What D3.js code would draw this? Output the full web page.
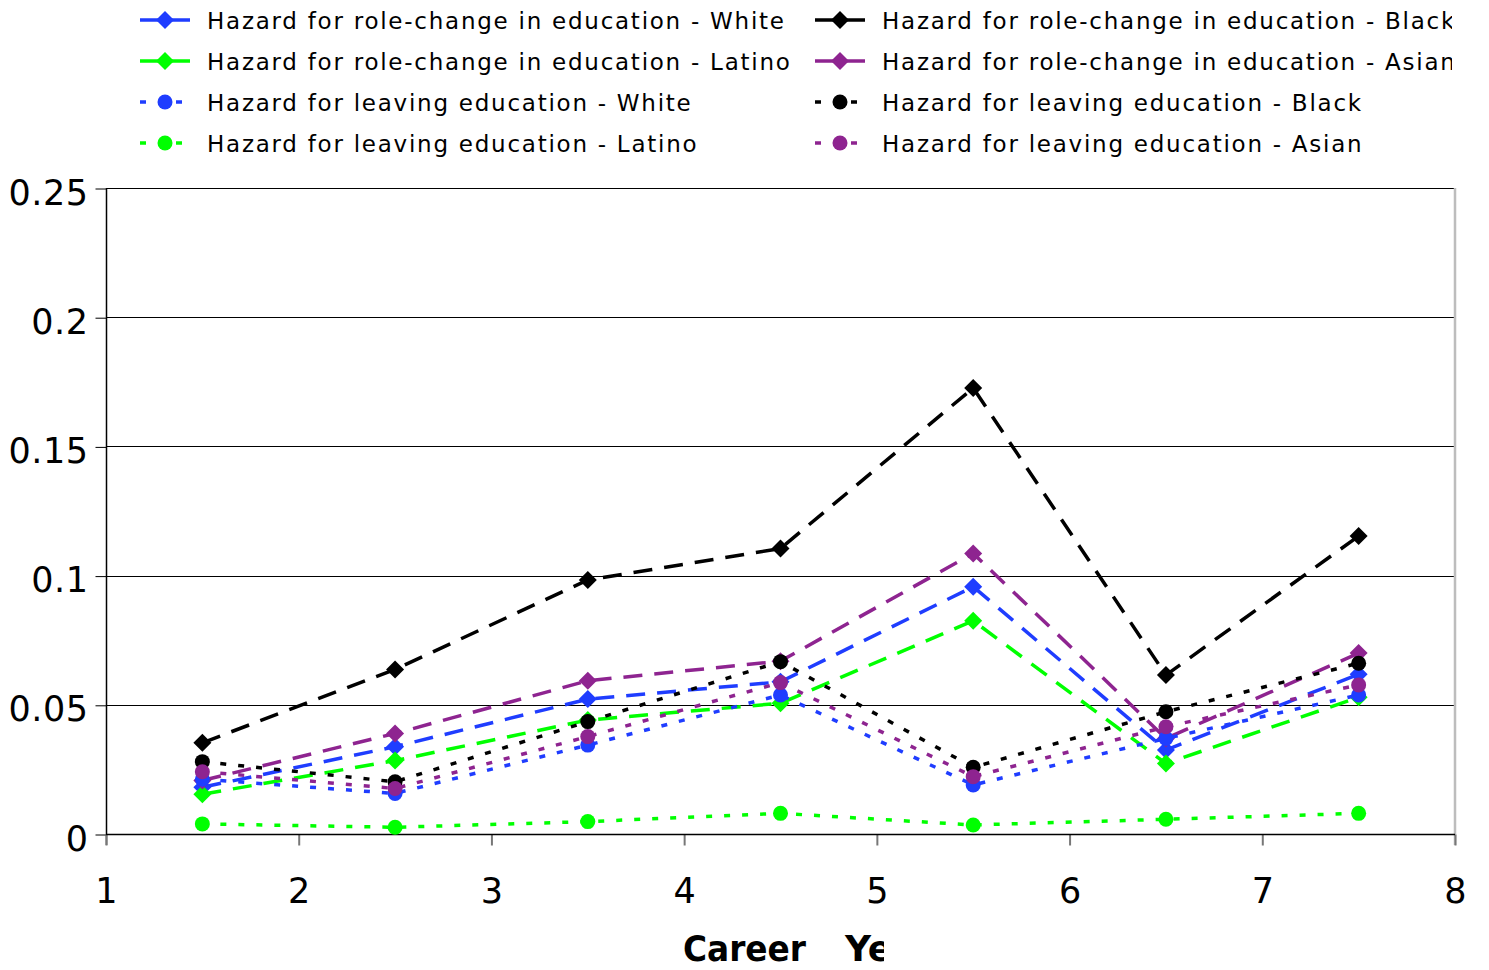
<!DOCTYPE html>
<html>
<head>
<meta charset="utf-8">
<script src="https://cdn.jsdelivr.net/npm/d3@7"></script>
<style>
  html, body { margin: 0; padding: 0; background: #fff; }
  svg { display: block; }
  text { font-family: "DejaVu Sans", Verdana, sans-serif; fill: #000; }
</style>
</head>
<body>
<svg id="chart" width="1489" height="970"></svg>
<script>
// Career-year positions of each hazard estimate
const xValues = [1.5, 2.5, 3.5, 4.5, 5.5, 6.5, 7.5];

// Hazard for role-change in education, by group
const roleWhite  = [0.0181, 0.0338, 0.0522, 0.0589, 0.0957, 0.0325, 0.0618];
const roleBlack  = [0.0353, 0.0637, 0.0983, 0.1105, 0.1726, 0.0615, 0.1153];
const roleLatino = [0.0154, 0.0284, 0.0441, 0.0506, 0.0825, 0.0273, 0.0529];
const roleAsian  = [0.0207, 0.0389, 0.0593, 0.0669, 0.1086, 0.0370, 0.0700];

// Hazard for leaving education, by group
const leaveWhite  = [0.0212, 0.0157, 0.0344, 0.0538, 0.0190, 0.0370, 0.0538];
const leaveBlack  = [0.0280, 0.0202, 0.0435, 0.0667, 0.0258, 0.0473, 0.0661];
const leaveLatino = [0.0039, 0.0026, 0.0048, 0.0080, 0.0035, 0.0057, 0.0080];
const leaveAsian  = [0.0241, 0.0176, 0.0377, 0.0586, 0.0222, 0.0415, 0.0577];

// Axis ticks
const xTicks = [1, 2, 3, 4, 5, 6, 7, 8];
const yTicks = [0, 0.05, 0.1, 0.15, 0.2, 0.25];
const yTickLabels = ["0", "0.05", "0.1", "0.15", "0.2", "0.25"];

const BLUE = "#1f3dff", BLACK = "#000000", GREEN = "#00ff00", PURPLE = "#8e2490";

// Drawing order follows the legend (row by row)
const series = [
  { name: "Hazard for role-change in education - White",  values: roleWhite,  color: BLUE,   kind: "role" },
  { name: "Hazard for role-change in education - Black",  values: roleBlack,  color: BLACK,  kind: "role" },
  { name: "Hazard for role-change in education - Latino", values: roleLatino, color: GREEN,  kind: "role" },
  { name: "Hazard for role-change in education - Asian",  values: roleAsian,  color: PURPLE, kind: "role" },
  { name: "Hazard for leaving education - White",  values: leaveWhite,  color: BLUE,   kind: "leave" },
  { name: "Hazard for leaving education - Black",  values: leaveBlack,  color: BLACK,  kind: "leave" },
  { name: "Hazard for leaving education - Latino", values: leaveLatino, color: GREEN,  kind: "leave" },
  { name: "Hazard for leaving education - Asian",  values: leaveAsian,  color: PURPLE, kind: "leave" }
];

const svg = d3.select("#chart");
const plot = { left: 106, right: 1455, top: 188, bottom: 834 };

const x = d3.scaleLinear().domain([1, 8]).range([plot.left, plot.right]);
const y = d3.scaleLinear().domain([0, 0.25]).range([plot.bottom, plot.top]);

// Horizontal gridlines
svg.append("g")
  .selectAll("line")
  .data(yTicks.filter(d => d > 0))
  .join("line")
  .attr("x1", plot.left).attr("x2", plot.right)
  .attr("y1", d => Math.round(y(d)) + 0.5).attr("y2", d => Math.round(y(d)) + 0.5)
  .attr("stroke", "#000").attr("stroke-width", 1);

// Right edge of the plot area
svg.append("line")
  .attr("x1", plot.right).attr("x2", plot.right)
  .attr("y1", plot.top).attr("y2", plot.bottom + 11)
  .attr("stroke", "#bdbdbd").attr("stroke-width", 2.5);

// Y axis
const yAxis = svg.append("g")
  .attr("transform", `translate(${plot.left + 0.5},0)`)
  .call(d3.axisLeft(y).tickValues(yTicks)
    .tickFormat((d, i) => yTickLabels[i])
    .tickSize(11).tickPadding(7));
yAxis.select(".domain").remove();
yAxis.selectAll(".tick line").attr("stroke", "#000").attr("transform", "translate(0,0.5)");
yAxis.selectAll(".tick text")
  .attr("font-size", 35).attr("dy", "0.46em").attr("letter-spacing", 0.5)
  .attr("font-family", "DejaVu Sans, sans-serif");
svg.append("line")
  .attr("x1", plot.left + 0.5).attr("x2", plot.left + 0.5)
  .attr("y1", plot.top).attr("y2", plot.bottom + 11)
  .attr("stroke", "#000").attr("stroke-width", 1.5);

// X axis
const xAxis = svg.append("g")
  .attr("transform", `translate(0,${plot.bottom + 0.5})`)
  .call(d3.axisBottom(x).tickValues(xTicks).tickFormat(d3.format("d"))
    .tickSize(11).tickPadding(33));
xAxis.select(".domain").remove();
xAxis.selectAll(".tick line").attr("stroke", "#777").attr("stroke-width", 2);
xAxis.selectAll(".tick text")
  .attr("font-size", 35)
  .attr("font-family", "DejaVu Sans, sans-serif");
svg.append("line")
  .attr("x1", plot.left).attr("x2", plot.right)
  .attr("y1", plot.bottom + 0.5).attr("y2", plot.bottom + 0.5)
  .attr("stroke", "#000").attr("stroke-width", 1.5);

// Axis title, cut off on the right as in the source layout
svg.append("clipPath").attr("id", "titleClip")
  .append("rect").attr("x", 0).attr("y", 900).attr("width", 884).attr("height", 70);
const title = svg.append("g").attr("clip-path", "url(#titleClip)");
title.append("text")
  .attr("x", 683).attr("y", 961)
  .attr("font-size", 36).attr("font-weight", "bold")
  .attr("textLength", 123).attr("lengthAdjust", "spacingAndGlyphs")
  .text("Career");
title.append("text")
  .attr("x", 845).attr("y", 961)
  .attr("font-size", 36).attr("font-weight", "bold")
  .text("Year");

// Marker shapes
const diamondPath = "M0,-9L9,0L0,9L-9,0Z";
const dashFor = kind => kind === "role" ? "19,12" : "6,12";

const line = d3.line().x(d => x(d[0])).y(d => y(d[1]));

const seriesG = svg.append("g");
series.forEach(s => {
  const pts = xValues.map((xv, i) => [xv, s.values[i]]);
  const g = seriesG.append("g");
  g.append("path")
    .attr("d", line(pts))
    .attr("fill", "none")
    .attr("stroke", s.color)
    .attr("stroke-width", 3.5)
    .attr("stroke-dasharray", dashFor(s.kind));
  const marks = g.selectAll(".m").data(pts).join("g")
    .attr("transform", d => `translate(${x(d[0])},${y(d[1])})`);
  if (s.kind === "role") {
    marks.append("path").attr("d", diamondPath).attr("fill", s.color);
  } else {
    marks.append("circle").attr("r", 7.5).attr("fill", s.color);
  }
});

// Legend: two columns, four rows; right column is cut at the chart edge
svg.append("clipPath").attr("id", "legendClip")
  .append("rect").attr("x", 0).attr("y", 0).attr("width", 1452).attr("height", 170);
const legend = svg.append("g").attr("clip-path", "url(#legendClip)");
const colX = [140, 815];
const rowY = [20, 61, 102, 143];
series.forEach((s, k) => {
  const cx = colX[k % 2], cy = rowY[Math.floor(k / 2)];
  const item = legend.append("g").attr("transform", `translate(${cx},${cy})`);
  item.append("line")
    .attr("x1", 0).attr("x2", 50).attr("y1", 0).attr("y2", 0)
    .attr("stroke", s.color).attr("stroke-width", 3.5)
    .attr("stroke-dasharray", s.kind === "role" ? "20,10" : "6,12");
  if (s.kind === "role") {
    item.append("path").attr("d", diamondPath).attr("transform", "translate(25,0)").attr("fill", s.color);
  } else {
    item.append("circle").attr("cx", 25).attr("r", 7.5).attr("fill", s.color);
  }
  item.append("text")
    .attr("x", 67).attr("y", 8.5)
    .attr("font-size", 23)
    .attr("letter-spacing", 1.75)
    .text(s.name);
});
</script>
</body>
</html>
